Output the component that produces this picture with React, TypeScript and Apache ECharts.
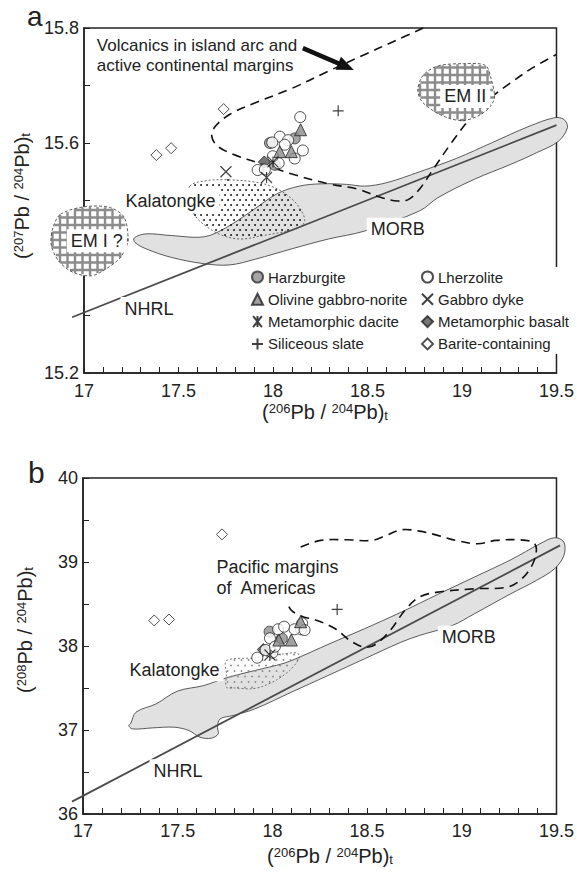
import React, { useEffect, useRef } from "react";
import * as echarts from "echarts";

const FONT = "'Liberation Sans', Arial, Helvetica, sans-serif";

// ---------- axes ----------
const xTicks = [17, 17.5, 18, 18.5, 19, 19.5];
const aYTicks = [15.2, 15.4, 15.6, 15.8];
const aYLabels = [15.2, 15.6, 15.8];
const bYTicks = [36, 37, 38, 39, 40];

// ---------- panel a : 207Pb/204Pb vs 206Pb/204Pb ----------
const aHarzburgite = [[17.984, 15.600], [18.115, 15.608], [18.010, 15.562]];
const aLherzolite = [
  [18.144, 15.645], [18.036, 15.611], [17.996, 15.601], [18.080, 15.605], [18.158, 15.587],
  [18.115, 15.573], [18.030, 15.565], [17.919, 15.553], [17.957, 15.554], [18.062, 15.597],
  [17.999, 15.577],
];
const aOlivine = [[18.146, 15.623], [18.036, 15.585], [18.097, 15.585]];
const aGabbroDyke = [[17.751, 15.550]];
const aDacite = [[17.966, 15.540], [18.000, 15.567]];
const aBasalt = [[17.954, 15.567]];
const aSiliceous = [[18.345, 15.656]];
const aBarite = [[17.739, 15.659], [17.383, 15.579], [17.461, 15.591]];

const aMorb = [
  [17.266, 15.435], [17.328, 15.442], [17.463, 15.439], [17.637, 15.437], [17.753, 15.453],
  [17.888, 15.482], [18.023, 15.512], [18.139, 15.525], [18.255, 15.529], [18.390, 15.528],
  [18.486, 15.525], [18.602, 15.531], [18.776, 15.550], [18.969, 15.573], [19.162, 15.601],
  [19.355, 15.629], [19.490, 15.644], [19.539, 15.641], [19.558, 15.627], [19.510, 15.603],
  [19.394, 15.583], [19.259, 15.563], [19.066, 15.537], [18.873, 15.505], [18.776, 15.482],
  [18.486, 15.447], [18.293, 15.433], [18.100, 15.416], [17.907, 15.398], [17.772, 15.388],
  [17.637, 15.390], [17.463, 15.401], [17.328, 15.416], [17.270, 15.427],
];
const aKalatongke = [
  [17.560, 15.525], [17.637, 15.534], [17.753, 15.536], [17.907, 15.532], [18.004, 15.523],
  [18.081, 15.508], [18.139, 15.488], [18.168, 15.465], [18.139, 15.453], [18.062, 15.446],
  [17.946, 15.439], [17.830, 15.433], [17.734, 15.439], [17.656, 15.453], [17.589, 15.473],
  [17.560, 15.499],
];
const aArcField = [
  [18.795, 15.800], [18.641, 15.777], [18.486, 15.754], [18.293, 15.725], [18.100, 15.695],
  [17.907, 15.670], [17.772, 15.650], [17.695, 15.629], [17.676, 15.612], [17.705, 15.595],
  [17.792, 15.580], [17.946, 15.563], [18.100, 15.546], [18.293, 15.529], [18.448, 15.520],
  [18.564, 15.506], [18.660, 15.499], [18.718, 15.502], [18.776, 15.520], [18.853, 15.557],
  [18.950, 15.603], [19.046, 15.644], [19.143, 15.676], [19.259, 15.705], [19.375, 15.731],
  [19.500, 15.754],
];
const aEM1 = [
  [16.875, 15.476], [17.000, 15.489], [17.135, 15.488], [17.212, 15.471], [17.232, 15.430],
  [17.193, 15.401], [17.116, 15.381], [17.039, 15.369], [16.942, 15.375], [16.865, 15.395],
  [16.826, 15.424], [16.836, 15.453],
];
const aEM2 = [
  [18.873, 15.734], [19.008, 15.738], [19.124, 15.735], [19.153, 15.713], [19.172, 15.679],
  [19.143, 15.661], [19.085, 15.647], [19.008, 15.639], [18.931, 15.643], [18.853, 15.655],
  [18.786, 15.673], [18.766, 15.693], [18.795, 15.718],
];
const aNhrl = [[16.937, 15.297], [19.5, 15.631]];
const aArrow = [[18.158, 15.765], [18.428, 15.727]];
const aLabelText = [
  "Volcanics in island arc and\nactive continental margins",
  "Kalatongke", "MORB", "NHRL", "EM I ?", "EM II",
];
const aLabelAt = [
  [17.068, 15.753], [17.458, 15.500], [18.660, 15.450], [17.344, 15.312], [17.068, 15.430], [19.017, 15.681],
];

// ---------- panel b : 208Pb/204Pb vs 206Pb/204Pb ----------
const bHarzburgite = [[17.985, 38.170], [18.050, 38.090]];
const bLherzolite = [
  [17.920, 37.861], [18.030, 38.199], [18.062, 38.230], [18.000, 37.920], [18.152, 38.199],
  [18.157, 38.270], [18.117, 38.199], [17.987, 38.092], [17.964, 37.952], [18.013, 37.992],
  [18.170, 38.190],
];
const bOlivine = [[18.149, 38.289], [18.034, 38.071], [18.100, 38.071]];
const bDacite = [[17.987, 37.893]];
const bBasalt = [[17.952, 37.958]];
const bSiliceous = [[18.342, 38.435]];
const bBarite = [[17.376, 38.304], [17.454, 38.316], [17.734, 39.329]];

const bMorb = [
  [17.251, 37.072], [17.280, 37.212], [17.386, 37.311], [17.498, 37.462], [17.637, 37.529],
  [17.757, 37.621], [17.907, 37.708], [18.062, 37.795], [18.143, 37.867], [18.293, 38.018],
  [18.486, 38.205], [18.680, 38.403], [18.873, 38.614], [19.066, 38.820], [19.259, 39.027],
  [19.413, 39.217], [19.490, 39.289], [19.539, 39.237], [19.539, 39.078], [19.490, 38.920],
  [19.394, 38.781], [19.259, 38.622], [19.066, 38.383], [18.950, 38.244], [18.776, 38.125],
  [18.680, 38.046], [18.486, 37.847], [18.293, 37.648], [18.100, 37.450], [17.907, 37.251],
  [17.792, 37.172], [17.724, 37.132], [17.710, 37.033], [17.714, 36.953], [17.676, 36.902],
  [17.618, 36.914], [17.560, 36.993], [17.483, 37.033], [17.367, 37.025], [17.261, 37.013],
  [17.241, 37.053],
];
const bKalatongke = [
  [17.757, 37.827], [17.907, 37.859], [18.062, 37.907], [18.129, 37.919], [18.143, 37.875],
  [18.129, 37.807], [18.091, 37.708], [18.023, 37.597], [17.946, 37.517], [17.888, 37.490],
  [17.792, 37.502], [17.757, 37.509], [17.757, 37.668],
];
const bPacificField = [
  [18.149, 39.178], [18.255, 39.257], [18.390, 39.265], [18.525, 39.257], [18.602, 39.317],
  [18.680, 39.384], [18.776, 39.368], [18.873, 39.317], [18.969, 39.257], [19.085, 39.217],
  [19.181, 39.257], [19.297, 39.265], [19.375, 39.237], [19.394, 39.158], [19.375, 38.979],
  [19.317, 38.800], [19.239, 38.701], [19.066, 38.681], [18.873, 38.641], [18.776, 38.582],
  [18.699, 38.423], [18.622, 38.185], [18.544, 38.018], [18.486, 37.986], [18.409, 38.066],
  [18.332, 38.205], [18.236, 38.304], [18.158, 38.352], [18.100, 38.423], [18.081, 38.502],
];
const bNhrl = [[16.942, 36.147], [19.519, 39.198]];
const bLabelText = ["Pacific margins\nof  Americas", "Kalatongke", "MORB", "NHRL"];
const bLabelAt = [[17.705, 38.820], [17.483, 37.716], [19.037, 38.105], [17.502, 36.516]];

// ---------- legend ----------
const legendLeft = ["Harzburgite", "Olivine gabbro-norite", "Metamorphic dacite", "Siliceous slate"];
const legendRight = ["Lherzolite", "Gabbro dyke", "Metamorphic basalt", "Barite-containing"];

// ---------- helpers ----------
type Pt = number[];

function scanSegments(poly: Pt[], step: number, vertical: boolean) {
  const segs: Pt[][] = [];
  const ci = vertical ? 0 : 1;
  const oi = 1 - ci;
  let lo = Infinity, hi = -Infinity;
  poly.forEach((p) => { lo = Math.min(lo, p[ci]); hi = Math.max(hi, p[ci]); });
  for (let v = Math.ceil(lo / step) * step; v <= hi; v += step) {
    const xs: number[] = [];
    for (let i = 0; i < poly.length; i++) {
      const a = poly[i], b = poly[(i + 1) % poly.length];
      if ((a[ci] <= v && b[ci] > v) || (b[ci] <= v && a[ci] > v)) {
        xs.push(a[oi] + ((v - a[ci]) * (b[oi] - a[oi])) / (b[ci] - a[ci]));
      }
    }
    xs.sort((m, n) => m - n);
    for (let k = 0; k + 1 < xs.length; k += 2) {
      segs.push(vertical ? [[v, xs[k]], [v, xs[k + 1]]] : [[xs[k], v], [xs[k + 1], v]]);
    }
  }
  return segs;
}

function inside(pt: Pt, poly: Pt[]) {
  let c = false;
  for (let i = 0, j = poly.length - 1; i < poly.length; j = i++) {
    const a = poly[i], b = poly[j];
    if (a[1] > pt[1] !== b[1] > pt[1] && pt[0] < ((b[0] - a[0]) * (pt[1] - a[1])) / (b[1] - a[1]) + a[0]) c = !c;
  }
  return c;
}

function dotsIn(poly: Pt[], dx: number, dy: number, r: number, color: string) {
  const out: any[] = [];
  let minX = Infinity, maxX = -Infinity, minY = Infinity, maxY = -Infinity;
  poly.forEach((p) => {
    minX = Math.min(minX, p[0]); maxX = Math.max(maxX, p[0]);
    minY = Math.min(minY, p[1]); maxY = Math.max(maxY, p[1]);
  });
  let row = 0;
  for (let y = Math.ceil(minY / dy) * dy; y <= maxY; y += dy, row++) {
    const off = (row % 2) * (dx / 2);
    for (let x = Math.floor(minX / dx) * dx + off; x <= maxX; x += dx) {
      if (inside([x, y], poly)) {
        out.push({ type: "circle", shape: { cx: x, cy: y, r }, style: { fill: color, stroke: "none" }, silent: true });
      }
    }
  }
  return out;
}

function hatchBlob(poly: Pt[]) {
  const els: any[] = [];
  els.push({ type: "polygon", shape: { points: poly, smooth: 0.3 }, style: { fill: "#fff", stroke: "none" } });
  const segs = scanSegments(poly, 7.5, false).concat(scanSegments(poly, 7.5, true));
  segs.forEach((s) => {
    els.push({ type: "line", shape: { x1: s[0][0], y1: s[0][1], x2: s[1][0], y2: s[1][1] }, style: { stroke: "#8c8c8c", lineWidth: 2.4 } });
  });
  els.push({ type: "polygon", shape: { points: poly, smooth: 0.3 }, style: { fill: "none", stroke: "#333", lineWidth: 0.8, lineDash: [3, 2] } });
  return els;
}

function textEl(p: Pt, text: string, align: string, box: boolean, size: number) {
  return {
    type: "text",
    x: p[0],
    y: p[1],
    silent: true,
    style: {
      text,
      fill: "#222",
      fontSize: size,
      fontFamily: FONT,
      align,
      verticalAlign: "middle",
      lineHeight: Math.round(size * 1.18),
      backgroundColor: box ? "#fff" : "transparent",
      padding: box ? [1, 4, 1, 4] : 0,
    },
  };
}

function arrowEls(s: Pt, e: Pt) {
  const dx = e[0] - s[0], dy = e[1] - s[1];
  const L = Math.hypot(dx, dy);
  const ux = dx / L, uy = dy / L;
  const hl = 17, hw = 7;
  const bx = e[0] - ux * hl, by = e[1] - uy * hl;
  return [
    { type: "line", shape: { x1: s[0], y1: s[1], x2: bx + ux * 2, y2: by + uy * 2 }, style: { stroke: "#111", lineWidth: 4.5 } },
    { type: "polygon", shape: { points: [e, [bx - uy * hw, by + ux * hw], [bx + uy * hw, by - ux * hw]] }, style: { fill: "#111", stroke: "none" } },
  ];
}

function panelARender(params: any, api: any) {
  const P = (d: Pt) => api.coord(d);
  const ch: any[] = [];
  ch.push({ type: "polygon", shape: { points: aMorb.map(P), smooth: 0.35 }, style: { fill: "#e1e1e1", stroke: "#333", lineWidth: 0.8 } });
  const kp = aKalatongke.map(P);
  ch.push(...dotsIn(kp, 6, 5, 0.95, "#111"));
  ch.push({ type: "polygon", shape: { points: kp, smooth: 0.35 }, style: { fill: "none", stroke: "#444", lineWidth: 0.8, lineDash: [2, 2] } });
  const n = aNhrl.map(P);
  ch.push({ type: "line", shape: { x1: n[0][0], y1: n[0][1], x2: n[1][0], y2: n[1][1] }, style: { stroke: "#4a4a4a", lineWidth: 1.8 } });
  ch.push({ type: "polyline", shape: { points: aArcField.map(P), smooth: 0.35 }, style: { fill: "none", stroke: "#111", lineWidth: 1.6, lineDash: [9, 6] } });
  ch.push(...hatchBlob(aEM1.map(P)));
  ch.push(...hatchBlob(aEM2.map(P)));
  ch.push(textEl(P(aLabelAt[0]), aLabelText[0], "left", false, 17));
  for (let i = 1; i < aLabelText.length; i++) ch.push(textEl(P(aLabelAt[i]), aLabelText[i], "center", true, 18));
  const ar = aArrow.map(P);
  ch.push(...arrowEls(ar[0], ar[1]));
  return { type: "group", children: ch };
}

function panelBRender(params: any, api: any) {
  const P = (d: Pt) => api.coord(d);
  const ch: any[] = [];
  ch.push({ type: "polygon", shape: { points: bMorb.map(P), smooth: 0.35 }, style: { fill: "#e1e1e1", stroke: "#333", lineWidth: 0.8 } });
  const kp = bKalatongke.map(P);
  ch.push(...dotsIn(kp, 7, 5.5, 0.9, "#8a8a8a"));
  ch.push({ type: "polygon", shape: { points: kp, smooth: 0.3 }, style: { fill: "none", stroke: "#555", lineWidth: 0.8, lineDash: [2, 2] } });
  const n = bNhrl.map(P);
  ch.push({ type: "line", shape: { x1: n[0][0], y1: n[0][1], x2: n[1][0], y2: n[1][1] }, style: { stroke: "#4a4a4a", lineWidth: 1.8 } });
  ch.push({ type: "polyline", shape: { points: bPacificField.map(P), smooth: 0.35 }, style: { fill: "none", stroke: "#111", lineWidth: 1.6, lineDash: [9, 6] } });
  ch.push(textEl(P(bLabelAt[0]), bLabelText[0], "left", false, 18));
  for (let i = 1; i < bLabelText.length; i++) ch.push(textEl(P(bLabelAt[i]), bLabelText[i], "center", true, 18));
  return { type: "group", children: ch };
}

const SYM: Record<string, any> = {
  "Harzburgite": { symbol: "circle", size: 11, itemStyle: { color: "#8e8e8e", borderColor: "#333", borderWidth: 1 } },
  "Lherzolite": { symbol: "circle", size: 11, itemStyle: { color: "#fff", borderColor: "#222", borderWidth: 1 } },
  "Olivine gabbro-norite": { symbol: "triangle", size: 12, itemStyle: { color: "#8a8a8a", borderColor: "#222", borderWidth: 1 } },
  "Gabbro dyke": { symbol: "path://M0,0L10,10M10,0L0,10", size: 11, itemStyle: { color: "rgba(0,0,0,0)", borderColor: "#111", borderWidth: 1.2 } },
  "Metamorphic dacite": { symbol: "path://M1,0L9,10M9,0L1,10M5,0L5,10", size: 11, itemStyle: { color: "rgba(0,0,0,0)", borderColor: "#111", borderWidth: 1.1 } },
  "Metamorphic basalt": { symbol: "diamond", size: 12, itemStyle: { color: "#555", borderColor: "#222", borderWidth: 1 } },
  "Siliceous slate": { symbol: "path://M5,0L5,10M0,5L10,5", size: 11, itemStyle: { color: "rgba(0,0,0,0)", borderColor: "#111", borderWidth: 1.2 } },
  "Barite-containing": { symbol: "diamond", size: 11, itemStyle: { color: "#fff", borderColor: "#222", borderWidth: 1 } },
};

function scatter(name: string, data: Pt[], g: number) {
  const s = SYM[name];
  return {
    type: "scatter", name, xAxisIndex: g, yAxisIndex: g, data,
    symbol: s.symbol, symbolSize: s.size, itemStyle: s.itemStyle,
    silent: true, emphasis: { disabled: true }, z: 3,
  };
}

function xAxisFor(g: number, margin: number) {
  return {
    type: "value", gridIndex: g,
    min: xTicks[0], max: xTicks[xTicks.length - 1], interval: xTicks[1] - xTicks[0],
    axisLine: { show: true, onZero: false, lineStyle: { color: "#222", width: 1.5 } },
    axisTick: { show: true, inside: true, length: 6, lineStyle: { color: "#222", width: 1 } },
    minorTick: { show: true, splitNumber: 5, length: 6, lineStyle: { color: "#222", width: 1 } },
    splitLine: { show: false }, minorSplitLine: { show: false },
    axisLabel: {
      fontSize: 18, color: "#222", fontFamily: FONT, margin,
      formatter: (v: number) => (xTicks.some((t) => Math.abs(t - v) < 1e-9) ? String(v) : ""),
    },
  };
}

function yAxisFor(g: number, ticks: number[], labels: number[], digits: number, minorSplit: number) {
  return {
    type: "value", gridIndex: g,
    min: ticks[0], max: ticks[ticks.length - 1], interval: ticks[1] - ticks[0],
    axisLine: { show: true, onZero: false, lineStyle: { color: "#222", width: 1.5 } },
    axisTick: { show: true, inside: true, length: 6, lineStyle: { color: "#222", width: 1 } },
    minorTick: { show: true, splitNumber: minorSplit, length: 6, lineStyle: { color: "#222", width: 1 } },
    splitLine: { show: false }, minorSplitLine: { show: false },
    axisLabel: {
      fontSize: 18, color: "#222", fontFamily: FONT, margin: 5,
      formatter: (v: number) => (labels.some((t) => Math.abs(t - v) < 1e-9) ? v.toFixed(digits) : ""),
    },
  };
}

const titleRich = {
  sup: { fontSize: 13, fontFamily: FONT, fill: "#222", verticalAlign: "top", lineHeight: 12 },
  sub: { fontSize: 13, fontFamily: FONT, fill: "#222", verticalAlign: "bottom", lineHeight: 12 },
};
function axisTitle(x: number, y: number, mass: string, rotate: boolean) {
  return {
    type: "text", x, y, rotation: rotate ? Math.PI / 2 : 0, silent: true,
    style: {
      text: `({sup|${mass}}Pb / {sup|204}Pb){sub|t}`,
      fontSize: 20, fontFamily: FONT, fill: "#222", lineHeight: 20,
      align: "center", verticalAlign: "middle", rich: titleRich,
    },
  };
}

function legendFor(names: string[], left: number) {
  return {
    data: names, orient: "vertical", left, top: 267, padding: [2, 3, 2, 3],
    itemGap: 6.3, itemWidth: 11, itemHeight: 11, selectedMode: false,
    backgroundColor: "#fff",
    textStyle: { fontSize: 15, fontFamily: FONT, color: "#222", lineHeight: 16 },
  };
}

function buildOption() {
  return {
    animation: false,
    backgroundColor: "#fff",
    grid: [
      { left: 84, top: 28, width: 477, height: 345, show: true, borderColor: "#222", borderWidth: 1.5, backgroundColor: "transparent" },
      { left: 83, top: 478, width: 478, height: 336, show: true, borderColor: "#222", borderWidth: 1.5, backgroundColor: "transparent" },
    ],
    xAxis: [xAxisFor(0, 9), xAxisFor(1, 8)],
    yAxis: [yAxisFor(0, aYTicks, aYLabels, 1, 2), yAxisFor(1, bYTicks, bYTicks, 0, 2)],
    legend: [legendFor(legendLeft, 248), legendFor(legendRight, 418)],
    graphic: [
      { type: "text", x: 27, y: 16, silent: true, style: { text: "a", fontSize: 28, fontFamily: FONT, fill: "#222", verticalAlign: "middle" } },
      { type: "text", x: 28, y: 472, silent: true, style: { text: "b", fontSize: 30, fontFamily: FONT, fill: "#222", verticalAlign: "middle" } },
      axisTitle(325, 412, "206", false),
      axisTitle(330, 856, "206", false),
      axisTitle(22, 196, "207", true),
      axisTitle(25, 630, "208", true),
    ],
    series: [
      { type: "custom", name: "fieldsA", xAxisIndex: 0, yAxisIndex: 0, data: [[18, 15.5]], renderItem: panelARender, clip: false, silent: true, z: 2 },
      { type: "custom", name: "fieldsB", xAxisIndex: 1, yAxisIndex: 1, data: [[18, 38]], renderItem: panelBRender, clip: false, silent: true, z: 2 },
      scatter("Metamorphic basalt", aBasalt, 0),
      scatter("Harzburgite", aHarzburgite, 0),
      scatter("Lherzolite", aLherzolite, 0),
      scatter("Olivine gabbro-norite", aOlivine, 0),
      scatter("Gabbro dyke", aGabbroDyke, 0),
      scatter("Metamorphic dacite", aDacite, 0),
      scatter("Siliceous slate", aSiliceous, 0),
      scatter("Barite-containing", aBarite, 0),
      scatter("Metamorphic basalt", bBasalt, 1),
      scatter("Harzburgite", bHarzburgite, 1),
      scatter("Lherzolite", bLherzolite, 1),
      scatter("Olivine gabbro-norite", bOlivine, 1),
      scatter("Metamorphic dacite", bDacite, 1),
      scatter("Siliceous slate", bSiliceous, 1),
      scatter("Barite-containing", bBarite, 1),
    ],
  };
}

export default function App() {
  const ref = useRef<HTMLDivElement>(null);
  useEffect(() => {
    const el = ref.current;
    if (!el) return;
    const chart = echarts.init(el, null, { renderer: "svg" });
    chart.setOption(buildOption() as any);
    return () => chart.dispose();
  }, []);
  return (
    <div
      ref={ref}
      style={{ position: "absolute", left: 0, top: 0, width: 577, height: 873, background: "#fff" }}
    />
  );
}
